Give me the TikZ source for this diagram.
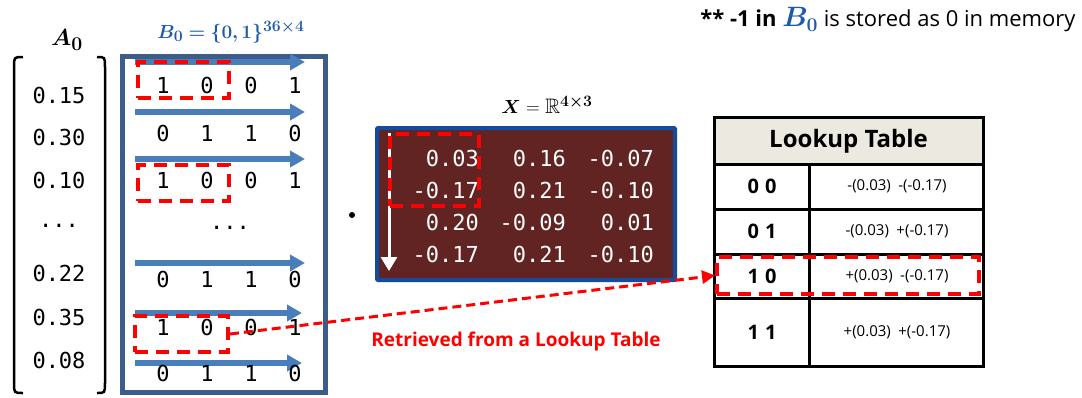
\documentclass[tikz,border=0pt]{standalone}
\usepackage{amsmath,amssymb,bm}
\usepackage{fontspec}
\setmainfont{Open Sans}
\setmonofont{DejaVu Sans Mono}
\usetikzlibrary{arrows.meta, positioning, calc}
\definecolor{framegray}{RGB}{61,92,140}
\definecolor{rowblue}{RGB}{74,126,187}
\definecolor{titleblue}{RGB}{30,90,170}
\definecolor{maroon}{RGB}{98,35,35}
\definecolor{xframe}{RGB}{20,75,155}
\definecolor{headbeige}{RGB}{236,234,224}
\definecolor{hired}{RGB}{255,0,0}

\begin{document}
\begin{tikzpicture}[x=1pt, y=-1pt,
  mono/.style={font=\fontsize{22}{24}\selectfont\ttfamily},
  mathlabel/.style={font=\fontsize{19}{21}\selectfont},
  rowarrow/.style={rowblue, line width=6pt, -{Triangle[length=15pt,width=16pt]}},
  redbox/.style={draw=hired, line width=4pt, dash pattern=on 13pt off 8pt, inner sep=0pt},
  grid/.style={line width=3pt, black}]
  \useasboundingbox (0,0) rectangle (1082,397);

  % A_0 column vector
  \node[mathlabel] (alabel) at (67,40) {\scalebox{1.35}{$\bm{A_0}$}};
  \draw[line width=2.5pt] (23,57) .. controls (14,57) .. (14,67) -- (14,383) .. controls (14,393) .. (23,393);
  \draw[line width=2.5pt] (97,57) .. controls (105,57) .. (105,67) -- (105,383) .. controls (105,393) .. (97,393);
  \foreach \v/\y in {0.15/95, 0.30/137, 0.10/180, 0.22/273, 0.35/317, 0.08/360}
    \node[mono] (a\y) at (59,\y) {\v};
  \node[mono] (adots) at (59,226) {...};

  % B_0 binary matrix
  \node[mathlabel, titleblue] (blabel) at (231,32) {\scalebox{1.1}{$\bm{B_0=\{0,1\}^{36\times 4}}$}};
  \draw[framegray, line width=5pt] (122,56) rectangle (325,392);
  \foreach \ya/\x in {62/305, 112/305, 159/305, 263/305, 313/302, 363/302}
    \draw[rowarrow] (135,\ya) -- (\x,\ya);
  \foreach \row/\y/\bits in {1/85/{1,0,0,1}, 2/133/{0,1,1,0}, 3/180/{1,0,0,1}, 5/279/{0,1,1,0}, 6/327/{1,0,0,1}, 7/373/{0,1,1,0}}
    \foreach \b [count=\c] in \bits
      \node[mono] (b\row\c) at (119+44*\c,\y) {\b};
  \node[mono] (bdots) at (230,228) {...};
  \node[redbox, minimum width=91pt, minimum height=36pt] (pick1) at (183,80) {};
  \node[redbox, minimum width=91pt, minimum height=36pt] (pick3) at (183,183) {};
  \node[redbox, minimum width=93pt, minimum height=36pt] (pick6) at (181.5,334) {};

  % dot product
  \fill (352,215) circle (3pt);

  % X matrix
  \node[mathlabel] (xlabel) at (547,105) {\scalebox{1.1}{$\bm{X}=\mathbb{R}^{\bm{4\times 3}}$}};
  \draw[xframe, fill=maroon, line width=4pt, rounded corners=1pt] (377,128) rectangle (675,280);
  \foreach \p/\q/\r [count=\i] in {0.03/0.16/-0.07, -0.17/0.21/-0.10, 0.20/-0.09/0.01, -0.17/0.21/-0.10}{
    \node[mono, white, anchor=east, inner sep=0pt] (x\i a) at (479,126+32*\i) {\p};
    \node[mono, white, anchor=east, inner sep=0pt] (x\i b) at (566,126+32*\i) {\q};
    \node[mono, white, anchor=east, inner sep=0pt] (x\i c) at (654,126+32*\i) {\r};
  }
  \draw[white, line width=3pt, -{Triangle[length=14pt,width=16pt]}] (389,133) -- (389,271);
  \node[redbox, minimum width=89pt, minimum height=72pt] (xpair) at (434.5,170) {};

  % Lookup table
  \fill[headbeige] (714,117) rectangle (983,164);
  \draw[grid] (714,117) rectangle (983,366);
  \foreach \y in {164, 209, 254, 298}
    \draw[grid] (714,\y) -- (983,\y);
  \draw[grid] (809,164) -- (809,366);
  \node[font=\fontsize{24}{26}\selectfont\bfseries] (lut) at (848.5,141) {Lookup Table};
  \foreach \k/\e/\y in {0\hspace{0.3em}0/{-(0.03)\hspace{0.5em}-(-0.17)}/186.5, 0\hspace{0.3em}1/{-(0.03)\hspace{0.5em}+(-0.17)}/231.5, 1\hspace{0.3em}0/{+(0.03)\hspace{0.5em}-(-0.17)}/276, 1\hspace{0.3em}1/{+(0.03)\hspace{0.5em}+(-0.17)}/332}{
    \node[font=\fontsize{20}{22}\selectfont\bfseries] at (762,\y) {\k};
    \node[font=\fontsize{15}{17}\selectfont] at (897,\y) {\e};
  }
  \node[redbox, minimum width=262pt, minimum height=37pt] (hit) at (848,275.5) {};

  % retrieval path
  \draw[hired, line width=3pt, dash pattern=on 9pt off 5pt, -{Triangle[length=13pt,width=13pt]}] (pick6.east) -- (hit.west);
  \node[hired, font=\fontsize{19}{21}\selectfont\bfseries] at (516,342) {Retrieved from a Lookup Table};

  % memory note
  \node[anchor=east, font=\fontsize{22}{24}\selectfont] (note) at (1079,20)
    {\textbf{** -1 in} {\color{titleblue}\scalebox{1.35}{$\bm{B_0}$}} is stored as 0 in memory};
\end{tikzpicture}
\end{document}
